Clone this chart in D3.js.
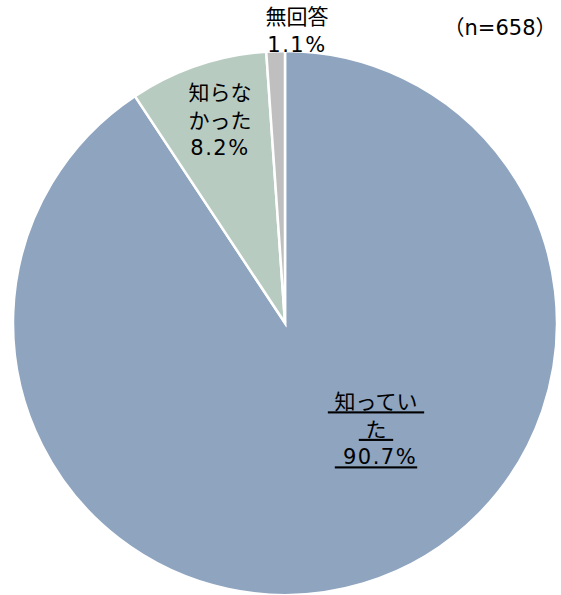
<!DOCTYPE html>
<html>
<head>
<meta charset="utf-8">
<script src="https://d3js.org/d3.v7.min.js"></script>
<style>
  body { margin: 0; background: #fff; }
  text { font-family: "DejaVu Sans", "Noto Sans CJK JP", sans-serif; fill: #000; }
</style>
</head>
<body>
<svg id="pie" width="561" height="595"></svg>
<script>
// data
const categories = ["知っていた", "知らなかった", "無回答"];
const values = [90.7, 8.2, 1.1];
const colors = ["#8EA4BF", "#B8CBC1", "#BFBFBF"];
const labelLines = [[" 知ってい ", " た ", " 90.7%"], ["知らな", "かった", "8.2%"], ["無回答", "1.1%"]];
const note = "（n=658）";

const svg = d3.select("#pie");
const cx = 285, cy = 323, radius = 272;

const pie = d3.pie().sort(null).value(d => d);
const arc = d3.arc().innerRadius(0).outerRadius(radius);

const g = svg.append("g").attr("transform", `translate(${cx},${cy})`);

g.selectAll("path.slice")
  .data(pie(values))
  .join("path")
  .attr("class", "slice")
  .attr("d", arc)
  .attr("fill", (d, i) => colors[i])
  .attr("stroke", "#fff")
  .attr("stroke-width", 2.5);

// first-line centre of each label, relative to the pie centre
const labelPos = [[91, 79], [-65, -230], [12, -306]];
const lineGap = 27.5;

labelLines.forEach((lines, i) => {
  const t = g.append("text")
    .attr("text-anchor", "middle")
    .style("font-size", "21px")
    .style("white-space", "pre");
  lines.forEach((s, j) => {
    t.append("tspan")
      .attr("x", labelPos[i][0])
      .attr("y", labelPos[i][1] + j * lineGap)
      .attr("dy", "0.35em")
      .style("text-decoration", i === 0 ? "underline" : "none")
      .style("letter-spacing", /\d/.test(s) ? "1.5px" : "0px")
      .text(s);
  });
});

svg.append("text")
  .attr("x", 500)
  .attr("y", 28)
  .attr("dy", "0.35em")
  .attr("text-anchor", "middle")
  .style("font-size", "21px")
  .text(note);
</script>
</body>
</html>
